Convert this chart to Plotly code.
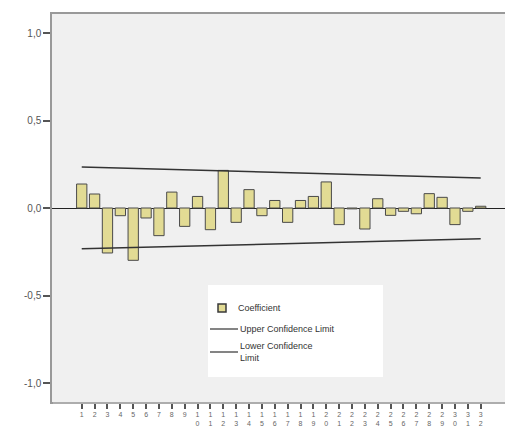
import plotly.graph_objects as go

lags = list(range(1, 33))
coefficients = [0.137, 0.080, -0.257, -0.044, -0.299, -0.057, -0.158, 0.091,
                -0.105, 0.066, -0.124, 0.215, -0.082, 0.105, -0.044, 0.043,
                -0.082, 0.043, 0.066, 0.149, -0.095, -0.005, -0.120, 0.053,
                -0.042, -0.019, -0.033, 0.082, 0.061, -0.095, -0.019, 0.010]
limit_lags = [1, 32]
upper_limit = [0.234, 0.172]
lower_limit = [-0.233, -0.176]
y_tick_vals = [-1.0, -0.5, 0.0, 0.5, 1.0]
y_tick_text = ["-1,0", "-0,5", "0,0", "0,5", "1,0"]
x_tick_text = ["<br>".join(list(str(l))) for l in lags]
legend_labels = ["Coefficient", "Upper Confidence Limit", "Lower Confidence<br>Limit"]

O = 8  # default page body margin
W, H = 513 - O, 432 - O
L, R, T, B = 52 - O, 5, 14 - O, 30
pw, ph = W - L - R, H - T - B
X0, Y1 = O + L, O + T          # page pixel of plot left / top
Y0 = Y1 + ph                   # page pixel of plot bottom

def px(x):
    return (x - X0) / pw

def py(y):
    return (Y0 - y) / ph

fig = go.Figure()
fig.add_trace(go.Bar(x=lags, y=coefficients, width=0.8,
                     marker=dict(color="#e2db94", line=dict(color="#4a4a4a", width=1)),
                     showlegend=False))
fig.add_trace(go.Scatter(x=limit_lags, y=upper_limit, mode="lines",
                         line=dict(color="#333333", width=1.5), showlegend=False))
fig.add_trace(go.Scatter(x=limit_lags, y=lower_limit, mode="lines",
                         line=dict(color="#333333", width=1.5), showlegend=False))

shapes = []
# frame shadow
shapes.append(dict(type="line", xref="paper", yref="paper", x0=px(X0 + 1), x1=px(X0 + pw + 1),
                   y0=py(Y0 + 1), y1=py(Y0 + 1), line=dict(color="#b5b5b5", width=1.5)))
shapes.append(dict(type="line", xref="paper", yref="paper", x0=px(X0 + pw + 1), x1=px(X0 + pw + 1),
                   y0=py(Y1 + 1), y1=py(Y0 + 1), line=dict(color="#b5b5b5", width=1.5)))
# legend box
shapes.append(dict(type="rect", xref="paper", yref="paper", x0=px(208), x1=px(383),
                   y0=py(377), y1=py(285), fillcolor="white", line=dict(width=0), layer="above"))
shapes.append(dict(type="rect", xref="paper", yref="paper", x0=px(218), x1=px(226),
                   y0=py(312), y1=py(304), fillcolor="#e2db94",
                   line=dict(color="#3a3a3a", width=1.5), layer="above"))
shapes.append(dict(type="line", xref="paper", yref="paper", x0=px(210), x1=px(238),
                   y0=py(329), y1=py(329), line=dict(color="#333333", width=1.2), layer="above"))
shapes.append(dict(type="line", xref="paper", yref="paper", x0=px(210), x1=px(238),
                   y0=py(352), y1=py(352), line=dict(color="#333333", width=1.2), layer="above"))
# small marks at top right
for yy in (47, 72):
    shapes.append(dict(type="line", xref="paper", yref="paper", x0=px(508), x1=px(511),
                       y0=py(yy), y1=py(yy), line=dict(color="#777777", width=1.5)))

annotations = []
for lab, yy, xx in zip(legend_labels, [308, 329, 352], [236, 238, 238]):
    annotations.append(dict(text=lab, xref="paper", yref="paper", x=px(xx), y=py(yy),
                            xanchor="left", yanchor="middle", showarrow=False, align="left",
                            font=dict(family="Liberation Sans, Arial", size=9, color="#333333")))

fig.update_layout(
    width=W, height=H,
    margin=dict(l=L, r=R, t=T, b=B, autoexpand=False),
    paper_bgcolor="#ffffff", plot_bgcolor="#f0f0f0",
    shapes=shapes, annotations=annotations, bargap=0.2,
    xaxis=dict(range=[-1.31, 34.12], tickmode="array", tickvals=lags, ticktext=x_tick_text,
               ticks="outside", ticklen=5, tickwidth=2, tickcolor="#555555", automargin=False,
               showline=True, mirror=True, linecolor="#999999", linewidth=1.5,
               showgrid=False, zeroline=False,
               tickfont=dict(family="Liberation Sans, Arial", size=7, color="#666666")),
    yaxis=dict(range=[-1.1086, 1.1086], tickmode="array", tickvals=y_tick_vals, ticktext=y_tick_text,
               ticks="outside", ticklen=7, tickwidth=2, tickcolor="#555555", automargin=False,
               showline=True, mirror=True, linecolor="#999999", linewidth=1.5,
               showgrid=False, zeroline=True, zerolinecolor="#222222", zerolinewidth=1,
               tickfont=dict(family="Liberation Sans, Arial", size=10, color="#555555")),
)

fig.write_html("out.html")
